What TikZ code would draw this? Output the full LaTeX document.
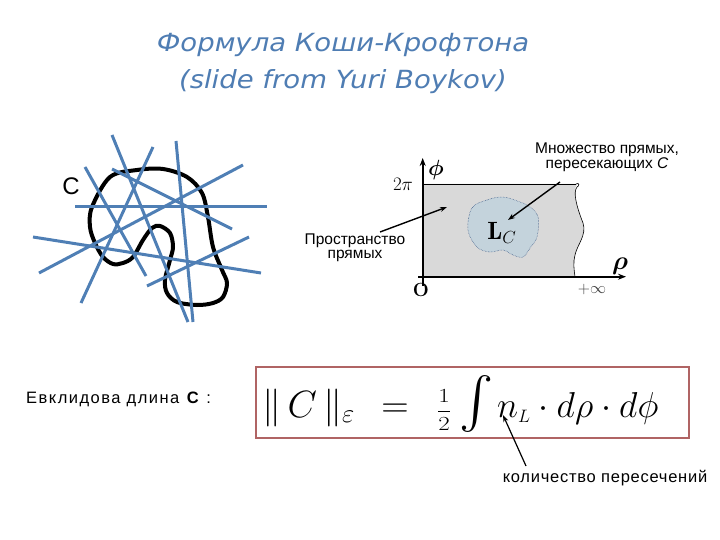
\RequirePackage{fix-cm}
\documentclass[tikz,border=0pt]{standalone}
\usepackage{fontspec}
\usepackage{amsmath}
\usepackage{graphicx}
\newfontfamily\ttlfont{DejaVu Sans}[FakeStretch=1.1]
\newfontfamily\arialf{Liberation Sans}
\newfontfamily\arialsp{Liberation Sans}[LetterSpace=9]
\newfontfamily\arialspb{Liberation Sans}[LetterSpace=4.5]
\usetikzlibrary{arrows.meta}
\definecolor{ttlblue}{HTML}{4F7DB3}
\definecolor{lineblue}{HTML}{4F7FB5}
\definecolor{boxred}{HTML}{B06464}
\definecolor{regiongray}{HTML}{D9D9D9}
\definecolor{blobfill}{HTML}{C4D3DC}
\definecolor{blobedge}{HTML}{2E4E7E}
\begin{document}
\begin{tikzpicture}[x=1pt,y=-1pt,
  bline/.style={lineblue,line width=3pt},
  lbl/.style={font=\arialf\fontsize{15.5}{14}\selectfont,align=center,inner sep=0pt},
  fpart/.style={anchor=base west,inner sep=0pt,font=\fontsize{38}{38}\selectfont},
  ptr/.style={-{Stealth[length=7pt,width=5pt]},line width=1.4pt},
  axis/.style={-{Stealth[length=8pt,width=6pt]},line width=1.8pt}]
\useasboundingbox (0,0) rectangle (720,540);
% title
\node[font=\ttlfont\itshape\fontsize{25}{37}\selectfont,text=ttlblue,align=center] (title) at (343,63)
  {Формула Коши-Крофтона\\(slide from Yuri Boykov)};
% curve C
\draw[line width=4pt,black] plot[smooth cycle,tension=0.55] coordinates {
 (92,207) (110,177) (137,170) (163,169) (187,177) (202,193) (208,217) (213,247)
 (222,270) (227,283) (223,297) (213,303) (197,305) (177,302) (167,293) (165,280)
 (170,260) (173,247) (170,233) (160,226) (152,228) (143,240) (133,257) (123,263)
 (113,264) (103,257) (95,243) (90,227)};
\node[font=\arialf\fontsize{24}{24}\selectfont,inner sep=0pt] (cl) at (71,186) {C};
% blue lines
\draw[bline] (112,135) -- (188,322);
\draw[bline] (153,147) -- (81,303);
\draw[bline] (176,141) -- (193,322);
\draw[bline] (243,165) -- (39,273);
\draw[bline] (75,207) -- (267,207);
\draw[bline] (85,167) -- (146,276);
\draw[bline] (112,169) -- (232,229);
\draw[bline] (33,237) -- (261,273);
\draw[bline] (249,237) -- (147,286);
% line space region
\fill[regiongray] (422.7,184) -- (577,184)
  .. controls (572,192) and (576,205) .. (583,223)
  .. controls (587,235) and (577,245) .. (575,255)
  .. controls (573,262) and (574,270) .. (575,276.7) -- (422.7,276.7) -- cycle;
\draw[line width=0.8pt] (422.7,184) -- (576,184);
\draw[line width=0.6pt] (576,184) .. controls (579,182) and (580,186) .. (577,187)
  .. controls (573,192) and (576,205) .. (583,223)
  .. controls (587,235) and (577,245) .. (575,255)
  .. controls (573,262) and (574,270) .. (575,276.7);
\draw[blobedge,fill=blobfill,line width=0.5pt,densely dotted] plot[smooth cycle,tension=0.6] coordinates {
 (472,208) (487,200) (503,197) (520,202) (530,207) (538,217) (537,237) (530,248)
 (523,257) (513,255) (503,250) (490,252) (477,247) (468,230)};
\node[inner sep=0pt] (lc) at (502,233) {\fontsize{25}{25}\selectfont$\mathbf{L}_{\fontsize{15}{15}\selectfont C}$};
% axes
\coordinate (origin) at (422.7,276.7);
\draw[axis] (418,276.7) -- (626,276.7);
\draw[axis] (422.7,286) -- (422.7,158);
\node[inner sep=0pt] (twopi) at (403,184) {\fontsize{19}{19}\selectfont$2\pi$};
\node[inner sep=0pt] (phi) at (436,170) {\fontsize{22}{22}\selectfont$\boldsymbol{\phi}$};
\node[inner sep=0pt] (o) at (421,290) {\fontsize{19}{19}\selectfont\textbf{O}};
\node[inner sep=0pt] (rho) at (620,266) {\fontsize{26}{26}\selectfont$\boldsymbol{\rho}$};
\node[inner sep=0pt,text=black!75] (inf) at (592,289) {\fontsize{16}{16}\selectfont$+\infty$};
% labels
\node[lbl] (ps) at (355,248) {Пространство\\прямых};
\coordinate (psend) at (447,207);
\draw[ptr] (380,232) -- (psend);
\node[lbl] (mn) at (607,157) {Множество прямых,\\пересекающих \textit{С}};
\coordinate (mnend) at (508,220);
\draw[ptr] (560,182) -- (mnend);
% bottom
\node[font=\arialsp\fontsize{16.5}{16.5}\selectfont,anchor=west,inner sep=0pt] (ev) at (26,399) {Евклидова длина \textbf{C} :};
\draw[boxred,line width=2pt] (256,367) rectangle (689,438);
\node[fpart] (f1) at (262,417) {$\|\,C\,\|_{\varepsilon}$};
\node[fpart,anchor=base] (f2) at (395,417) {$=$};
\node[inner sep=0pt,anchor=center] (f3) at (444,410) {\fontsize{20}{20}\selectfont\scalebox{1.25}[1]{$\dfrac12$}};
\node[inner sep=0pt,anchor=north west] (f4) at (459,375) {\resizebox*{!}{57pt}{$\int$}};
\node[fpart,font=\fontsize{36}{36}\selectfont] (f5) at (497,417) {$n_{\scriptscriptstyle L}\cdot d\rho\cdot d\phi$};
\coordinate (nl) at (503,415);
\node[font=\arialspb\fontsize{16.5}{16.5}\selectfont,inner sep=0pt] (cnt) at (605,478) {количество пересечений};
\draw[ptr,line width=1.2pt] (526,466) -- (nl);
\end{tikzpicture}
\end{document}
